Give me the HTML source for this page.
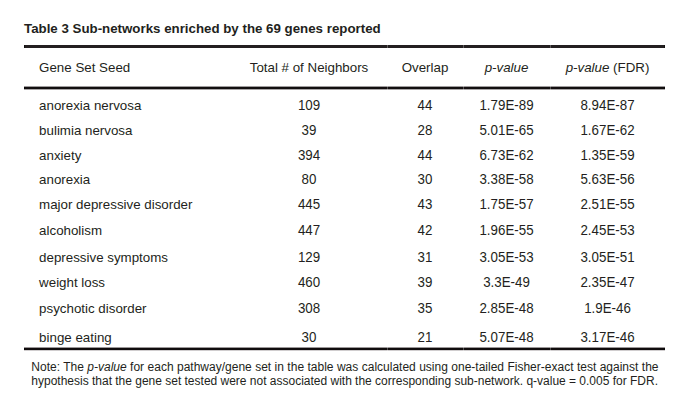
<!DOCTYPE html>
<html><head><meta charset="utf-8"><style>
html,body{margin:0;padding:0;background:#fff;}
body{width:690px;height:416px;position:relative;overflow:hidden;
 font-family:"Liberation Sans",Arial,sans-serif;color:#231f20;}
.title{position:absolute;left:24px;top:21px;font-size:13.3px;line-height:16px;font-weight:bold;white-space:nowrap;}
.row{position:absolute;left:0;width:690px;height:16px;font-size:13.33px;line-height:16px;white-space:nowrap;}
.c0{position:absolute;left:39.1px;}
.cc{position:absolute;text-align:center;}
.num .cc{transform:scaleY(1.04);transform-origin:0 12px;}
.rule{position:absolute;left:24px;width:641px;}
.note{position:absolute;left:31.3px;font-size:12px;line-height:14px;height:14px;white-space:nowrap;}
</style></head><body>
<div class="title">Table 3 Sub-networks enriched by the 69 genes reported</div>
<div class="rule" style="top:45px;height:3px;background:#231f20"></div>
<div class="rule" style="top:86px;height:4px;background:linear-gradient(#a09d9e 0 1px,#120e0f 1px 3px,#a8a5a6 3px 4px)"></div>
<div class="rule" style="top:347px;height:4px;background:linear-gradient(#9c9899 0 1px,#100c0d 1px 3px,#d0cdce 3px 4px)"></div>
<div style="position:absolute;left:387px;top:45px;width:1px;height:3px;background:rgba(255,255,255,0.28)"></div>
<div style="position:absolute;left:387px;top:86px;width:1px;height:4px;background:rgba(255,255,255,0.28)"></div>
<div style="position:absolute;left:387px;top:347px;width:1px;height:4px;background:rgba(255,255,255,0.28)"></div>
<div style="position:absolute;left:463px;top:45px;width:1px;height:3px;background:rgba(255,255,255,0.28)"></div>
<div style="position:absolute;left:463px;top:86px;width:1px;height:4px;background:rgba(255,255,255,0.28)"></div>
<div style="position:absolute;left:463px;top:347px;width:1px;height:4px;background:rgba(255,255,255,0.28)"></div>
<div style="position:absolute;left:550px;top:45px;width:1px;height:3px;background:rgba(255,255,255,0.28)"></div>
<div style="position:absolute;left:550px;top:86px;width:1px;height:4px;background:rgba(255,255,255,0.28)"></div>
<div style="position:absolute;left:550px;top:347px;width:1px;height:4px;background:rgba(255,255,255,0.28)"></div>
<div style="position:absolute;left:24px;top:45px;width:1px;height:3px;background:rgba(0,0,0,0.45)"></div>
<div style="position:absolute;left:24px;top:87px;width:1px;height:2px;background:rgba(0,0,0,0.45)"></div>
<div style="position:absolute;left:24px;top:348px;width:1px;height:2px;background:rgba(0,0,0,0.45)"></div>
<div style="position:absolute;left:664px;top:45px;width:1px;height:3px;background:rgba(0,0,0,0.45)"></div>
<div style="position:absolute;left:664px;top:87px;width:1px;height:2px;background:rgba(0,0,0,0.45)"></div>
<div style="position:absolute;left:664px;top:348px;width:1px;height:2px;background:rgba(0,0,0,0.45)"></div>

<div class="row hdr" style="top:60.00px"><span class="c0">Gene Set Seed</span><span class="cc" style="left:231px;width:156px">Total # of Neighbors</span><span class="cc" style="left:387px;width:76px">Overlap</span><span class="cc" style="left:463px;width:87px"><i>p-value</i></span><span class="cc" style="left:550px;width:115px"><i>p-value</i> (FDR)</span></div>
<div class="row num" style="top:98.00px"><span class="c0">anorexia nervosa</span><span class="cc" style="left:231px;width:156px">109</span><span class="cc" style="left:387px;width:76px">44</span><span class="cc" style="left:463px;width:87px">1.79E-89</span><span class="cc" style="left:550px;width:115px">8.94E-87</span></div>
<div class="row num" style="top:123.00px"><span class="c0">bulimia nervosa</span><span class="cc" style="left:231px;width:156px">39</span><span class="cc" style="left:387px;width:76px">28</span><span class="cc" style="left:463px;width:87px">5.01E-65</span><span class="cc" style="left:550px;width:115px">1.67E-62</span></div>
<div class="row num" style="top:148.00px"><span class="c0">anxiety</span><span class="cc" style="left:231px;width:156px">394</span><span class="cc" style="left:387px;width:76px">44</span><span class="cc" style="left:463px;width:87px">6.73E-62</span><span class="cc" style="left:550px;width:115px">1.35E-59</span></div>
<div class="row num" style="top:172.00px"><span class="c0">anorexia</span><span class="cc" style="left:231px;width:156px">80</span><span class="cc" style="left:387px;width:76px">30</span><span class="cc" style="left:463px;width:87px">3.38E-58</span><span class="cc" style="left:550px;width:115px">5.63E-56</span></div>
<div class="row num" style="top:197.00px"><span class="c0">major depressive disorder</span><span class="cc" style="left:231px;width:156px">445</span><span class="cc" style="left:387px;width:76px">43</span><span class="cc" style="left:463px;width:87px">1.75E-57</span><span class="cc" style="left:550px;width:115px">2.51E-55</span></div>
<div class="row num" style="top:223.00px"><span class="c0">alcoholism</span><span class="cc" style="left:231px;width:156px">447</span><span class="cc" style="left:387px;width:76px">42</span><span class="cc" style="left:463px;width:87px">1.96E-55</span><span class="cc" style="left:550px;width:115px">2.45E-53</span></div>
<div class="row num" style="top:250.00px"><span class="c0">depressive symptoms</span><span class="cc" style="left:231px;width:156px">129</span><span class="cc" style="left:387px;width:76px">31</span><span class="cc" style="left:463px;width:87px">3.05E-53</span><span class="cc" style="left:550px;width:115px">3.05E-51</span></div>
<div class="row num" style="top:275.00px"><span class="c0">weight loss</span><span class="cc" style="left:231px;width:156px">460</span><span class="cc" style="left:387px;width:76px">39</span><span class="cc" style="left:463px;width:87px">3.3E-49</span><span class="cc" style="left:550px;width:115px">2.35E-47</span></div>
<div class="row num" style="top:301.00px"><span class="c0">psychotic disorder</span><span class="cc" style="left:231px;width:156px">308</span><span class="cc" style="left:387px;width:76px">35</span><span class="cc" style="left:463px;width:87px">2.85E-48</span><span class="cc" style="left:550px;width:115px">1.9E-46</span></div>
<div class="row num" style="top:330.00px"><span class="c0">binge eating</span><span class="cc" style="left:231px;width:156px">30</span><span class="cc" style="left:387px;width:76px">21</span><span class="cc" style="left:463px;width:87px">5.07E-48</span><span class="cc" style="left:550px;width:115px">3.17E-46</span></div>

<div class="note" style="top:360px;word-spacing:0.1px">Note: The <i>p-value</i> for each pathway/gene set in the table was calculated using one-tailed Fisher-exact test against the</div>
<div class="note" style="top:374px;word-spacing:-0.04px">hypothesis that the gene set tested were not associated with the corresponding sub-network. q-value = 0.005 for FDR.</div>
</body></html>
